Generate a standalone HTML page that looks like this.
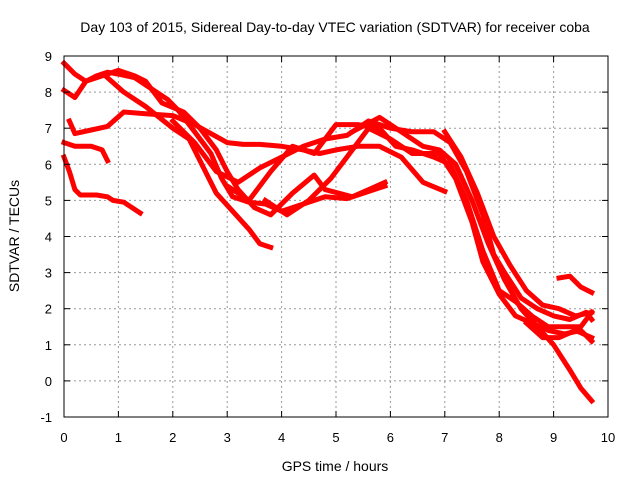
<!DOCTYPE html>
<html><head><meta charset="utf-8"><style>
body{margin:0;background:#fff;}
svg text{font-family:"Liberation Sans",sans-serif;fill:#000;}
</style></head><body>
<svg id="chart" width="640" height="480" xmlns="http://www.w3.org/2000/svg">
<rect width="640" height="480" fill="#fff"/>
<text x="335" y="32" font-size="14" text-anchor="middle">Day 103 of 2015, Sidereal Day-to-day VTEC variation (SDTVAR) for receiver coba</text>
<g id="grid"></g>
<g id="series"></g>
<rect x="64" y="56" width="544" height="361" fill="none" stroke="#000" stroke-width="1"/>
<g id="ticks"></g>
<text x="335" y="471" font-size="14" text-anchor="middle">GPS time / hours</text>
<text x="19" y="236" font-size="14" text-anchor="middle" transform="rotate(-90 19 236)">SDTVAR / TECUs</text>
</svg>
<script>
const xTicks=[0,1,2,3,4,5,6,7,8,9,10];
const yTicks=[-1,0,1,2,3,4,5,6,7,8,9];
const s1=[[0,8.8],[0.2,8.5],[0.4,8.3],[0.6,8.45],[0.8,8.55],[1.0,8.5],[1.3,8.4],[1.6,8.1],[1.9,7.8],[2.1,7.5],[2.4,6.9],[2.7,6.3],[2.9,5.6],[3.1,5.1],[3.4,4.95],[3.7,4.9],[4.0,4.7],[4.4,4.9],[4.8,5.1],[5.2,5.05],[5.5,5.2],[5.9,5.4]];
const s2=[[0,8.05],[0.2,7.85],[0.4,8.3],[0.7,8.45],[1.0,8.6],[1.3,8.45],[1.5,8.3],[1.8,7.7],[2.2,7.45],[2.5,7.0],[2.8,6.4],[3.0,5.8],[3.2,5.3],[3.5,4.8],[3.8,4.6],[4.2,5.2],[4.6,5.7],[4.8,5.3],[5.3,5.1],[5.6,5.3],[5.9,5.5]];
const s3=[[0.1,7.2],[0.2,6.85],[0.5,6.95],[0.8,7.05],[1.1,7.45],[1.5,7.4],[2.0,7.35],[2.4,7.1],[2.7,6.85],[3.0,6.6],[3.3,6.55],[3.6,6.55],[4.0,6.5],[4.4,6.4],[4.7,6.3],[5.0,6.4],[5.4,6.5],[5.8,6.5],[6.2,6.2],[6.6,5.5],[7.0,5.25]];
const s4=[[0.8,8.4],[1.1,8.0],[1.5,7.6],[2.0,7.0],[2.3,6.7],[2.6,5.8],[2.8,5.2],[3.1,4.7],[3.4,4.2],[3.6,3.8],[3.8,3.7]];
const s5=[[2.0,7.2],[2.4,6.6],[2.8,5.8],[3.2,5.5],[3.6,5.9],[4.0,6.2],[4.4,6.5],[4.8,6.7],[5.2,6.8],[5.6,7.2],[6.0,7.0],[6.4,6.9],[6.8,6.9],[7.1,6.6],[7.4,5.8],[7.7,4.6],[7.9,3.5],[8.1,3.0],[8.4,2.3],[8.7,2.0],[9.0,1.8],[9.3,1.7],[9.6,1.9],[9.7,1.7]];
const s6=[[3.0,5.4],[3.4,5.0],[3.8,5.8],[4.2,6.5],[4.6,6.3],[5.0,7.1],[5.4,7.1],[5.8,7.0],[6.1,6.5],[6.4,6.4],[6.8,6.2],[7.1,6.0],[7.4,5.0],[7.7,3.6],[8.0,2.5],[8.3,2.2],[8.6,1.8],[8.9,1.5],[9.2,1.5],[9.5,1.5],[9.7,1.9]];
const s7=[[3.7,5.0],[4.1,4.6],[4.5,5.0],[4.9,5.6],[5.2,6.2],[5.6,7.0],[6.0,6.7],[6.4,6.3],[6.9,6.3],[7.2,5.6],[7.5,4.4],[7.7,3.3],[8.0,2.4],[8.3,1.8],[8.6,1.6],[8.9,1.4],[9.2,1.3],[9.5,1.4],[9.7,1.1]];
const s8=[[5.3,6.9],[5.8,7.3],[6.2,6.9],[6.6,6.5],[6.9,6.4],[7.2,6.0],[7.5,5.0],[7.8,3.8],[8.1,2.8],[8.4,2.0],[8.7,1.5],[9.0,1.0],[9.3,0.3],[9.5,-0.2],[9.7,-0.55]];
const s9=[[7.0,6.9],[7.3,6.2],[7.6,5.2],[7.9,4.0],[8.2,3.2],[8.5,2.5],[8.8,2.1],[9.1,2.0],[9.4,1.8],[9.7,1.9]];
const s10=[[9.1,2.85],[9.3,2.9],[9.5,2.6],[9.7,2.45]];
const s11=[[8.5,1.6],[8.8,1.2],[9.1,1.2],[9.4,1.4],[9.7,1.2]];
const s12=[[0,6.2],[0.1,5.8],[0.2,5.3],[0.3,5.15],[0.6,5.15],[0.8,5.1],[0.9,5.0],[1.1,4.95],[1.4,4.65]];
const s13=[[0,6.6],[0.2,6.5],[0.5,6.5],[0.7,6.4],[0.8,6.1]];
const allSeries=[s1,s2,s3,s4,s5,s6,s7,s8,s9,s10,s11,s12,s13];

const NS="http://www.w3.org/2000/svg";
function X(t){return 64+(t-0)/10*544;}
function Y(v){return 417-(v+1)/10*361;}
const grid=document.getElementById('grid'),ticks=document.getElementById('ticks'),ser=document.getElementById('series');
function mk(tag,attrs,parent){const e=document.createElementNS(NS,tag);for(const k in attrs)e.setAttribute(k,attrs[k]);parent.appendChild(e);return e;}
xTicks.forEach(t=>{
  const x=X(t);
  if(t>0&&t<10){const g=mk('line',{x1:x,x2:x,y1:56,y2:417,stroke:'#999','stroke-dasharray':'2,3'},grid);
  
  }
  mk('line',{x1:x,x2:x,y1:417,y2:411,stroke:'#000'},ticks);
  mk('line',{x1:x,x2:x,y1:56,y2:62,stroke:'#000'},ticks);
  const tx=mk('text',{x:x,y:442,'font-size':13,'text-anchor':'middle'},ticks);
  tx.textContent=t;
  
  
});
yTicks.forEach(v=>{
  const y=Y(v);
  if(v>-1&&v<9){const g=mk('line',{x1:64,x2:608,y1:y,y2:y,stroke:'#999','stroke-dasharray':'2,3'},grid);
  
  }
  mk('line',{x1:64,x2:70,y1:y,y2:y,stroke:'#000'},ticks);
  mk('line',{x1:608,x2:602,y1:y,y2:y,stroke:'#000'},ticks);
  const tx=mk('text',{x:52,y:y+5,'font-size':13,'text-anchor':'end'},ticks);
  tx.textContent=v;
  
  
});
allSeries.forEach((s,i)=>{
  const p=mk('polyline',{points:s.map(d=>X(d[0]).toFixed(1)+','+Y(d[1]).toFixed(1)).join(' '),fill:'none',stroke:'#f00','stroke-width':5,'stroke-linejoin':'round','stroke-linecap':'square'},ser);
  
  
});
</script>
</body></html>
